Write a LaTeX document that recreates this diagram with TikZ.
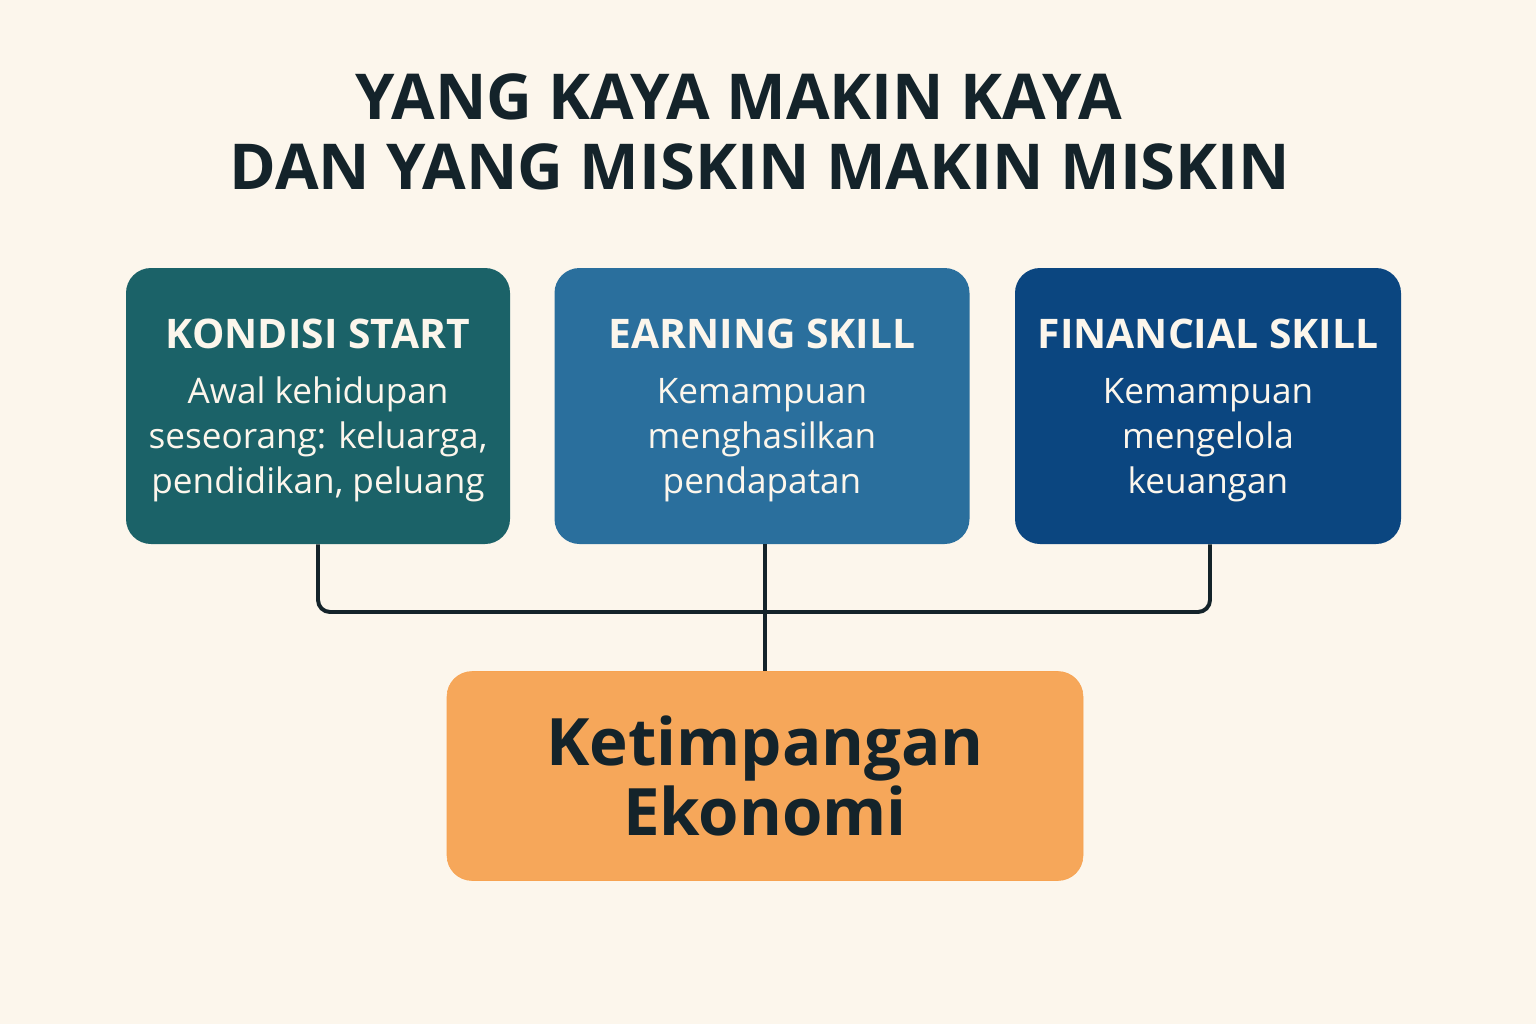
\documentclass[tikz,border=0pt]{standalone}
\usepackage{fontspec}
\setmainfont{Open Sans}
\usetikzlibrary{positioning}

\definecolor{bgcream}{HTML}{FCF6EC}
\definecolor{inkdark}{HTML}{14232A}
\definecolor{tealbox}{HTML}{1B6268}
\definecolor{bluebox}{HTML}{2A6F9D}
\definecolor{navybox}{HTML}{0B4680}
\definecolor{orangebox}{HTML}{F6A75A}

\tikzset{
  factor/.style={rounded corners=0.625cm, minimum height={276*0.025cm}, align=center,
    text=bgcream, inner sep=0pt, text depth=-8pt, font=\fontsize{25}{32}\selectfont},
  result/.style={rounded corners=0.625cm, fill=orangebox, draw=orangebox!90!orange,
    minimum width={636*0.025cm}, minimum height={209*0.025cm}, align=center, text=inkdark,
    font=\fontsize{46.5}{50}\selectfont\bfseries},
  headline/.style={text=inkdark, font=\fontsize{45}{50}\selectfont\bfseries},
  link/.style={draw=inkdark, line width=2.8pt, rounded corners=0.3cm}
}
\newcommand{\factorhead}[1]{{\fontsize{29}{30}\selectfont\bfseries #1}\\[7pt]}

\begin{document}
\begin{tikzpicture}[x=0.025cm, y=-0.025cm]
  \fill[bgcream] (0,0) rectangle (1536,1024);
  \useasboundingbox (0,0) rectangle (1536,1024);

  % title
  \node[headline] (title1) at (739,97) {YANG KAYA MAKIN KAYA};
  \node[headline] (title2) at (760,167) {DAN YANG MISKIN MAKIN MISKIN};

  % three factors
  \node[factor, fill=tealbox, minimum width={384*0.025cm}] (kondisi) at (318,406)
    {\factorhead{KONDISI START}Awal kehidupan\\seseorang: keluarga,\\pendidikan, peluang};
  \node[factor, fill=bluebox, minimum width={415*0.025cm}] (earning) at (762,406)
    {\factorhead{EARNING SKILL}Kemampuan\\menghasilkan\\pendapatan};
  \node[factor, fill=navybox, minimum width={386*0.025cm}] (financial) at (1208,406)
    {\factorhead{FINANCIAL SKILL}Kemampuan\\mengelola\\keuangan};

  % result
  \node[result] (ketimpangan) at (765,776) {Ketimpangan\\Ekonomi};

  % connectors
  \coordinate (bus) at (765,612);
  \draw[link] (kondisi.south -| 318,0) |- (bus) -| (financial.south -| 1210,0);
  \draw[link, rounded corners=0] (earning.south -| bus) -- (ketimpangan.north -| bus);
\end{tikzpicture}
\end{document}
